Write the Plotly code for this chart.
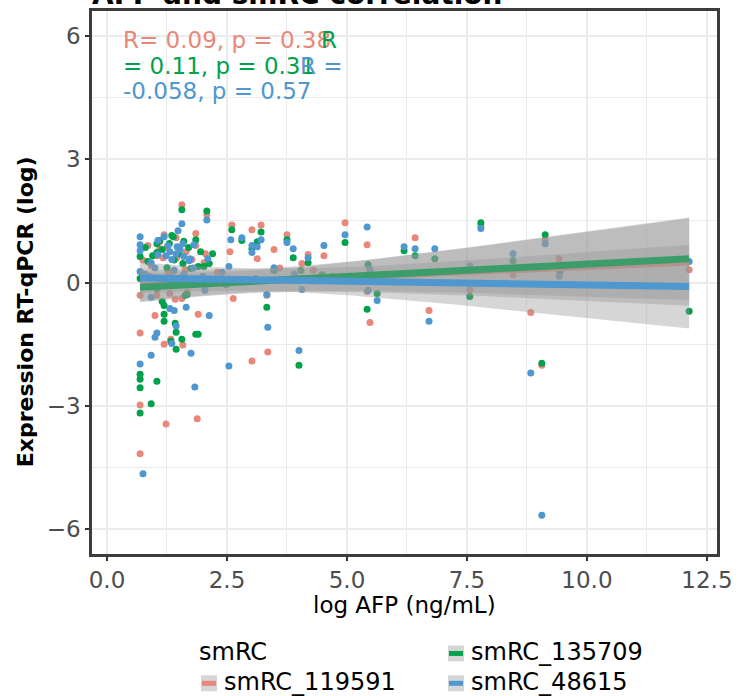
import numpy as np
import plotly.graph_objects as go

# ---------------- data ----------------
series_names = ["smRC_119591", "smRC_135709", "smRC_48615"]
series_colors = ["#E8877A", "#00A14B", "#4E97CF"]

x_119591 = [0.69, 0.69, 1.23, 1.88, 0.69, 1.04, 1.42, 1.56, 1.67, 1.00, 1.90, 2.63, 0.69, 1.33,
            1.19, 1.58, 0.85, 1.56, 2.08, 1.19, 1.10, 1.85, 1.10, 2.60, 2.56, 0.92, 1.77, 2.02,
            3.02, 3.13, 3.21, 3.48, 3.75, 4.19, 4.06, 4.52, 4.96, 5.42, 3.33, 3.35, 3.02, 5.48,
            5.42, 6.42, 6.71, 7.56, 7.79, 8.46, 8.83, 9.13, 9.42, 9.06, 12.13, 1.31, 1.27, 1.63,
            1.17, 1.44, 0.75, 1.05, 1.25, 1.45, 1.65, 1.85, 2.05, 1.35, 1.55, 0.90, 2.30, 3.60,
            4.30]
y_119591 = [-4.16, -2.98, -3.44, -3.31, -0.31, -0.31, -0.41, -0.39, -0.24, -0.80, -0.77, -0.39,
            -1.23, -1.38, -1.50, -1.52, 0.90, 1.89, 1.65, 1.16, 0.99, 1.19, 0.82, 1.40, 0.75,
            0.41, 0.56, 0.48, 1.28, 0.58, 1.40, 0.80, 1.16, 0.68, 0.46, 0.65, 1.45, 0.92, -0.31,
            -1.69, -1.91, -0.97, -0.22, 1.09, -0.68, -0.17, 1.38, 0.19, -0.73, 1.04, 0.58, -2.01,
            0.31, -0.27, 0.27, 0.31, 0.60, 1.09, 0.55, 0.65, 0.85, 0.60, 0.75, 0.90, 0.70, 0.20,
            0.10, 0.15, 0.25, 0.35, 0.30]

x_135709 = [0.69, 0.69, 0.69, 0.69, 1.04, 0.92, 1.15, 1.19, 1.67, 1.19, 1.19, 1.42, 1.44, 1.33,
            1.56, 1.85, 1.90, 1.44, 0.69, 0.85, 1.56, 2.08, 1.35, 1.04, 1.85, 1.04, 2.60, 1.58,
            2.02, 2.13, 1.90, 0.69, 2.81, 3.02, 3.13, 3.21, 3.75, 3.88, 4.19, 3.48, 4.96, 3.33,
            4.00, 5.42, 5.44, 5.63, 6.19, 6.42, 6.83, 7.79, 7.56, 8.46, 9.13, 9.44, 9.06, 12.13,
            1.63, 1.38, 1.10, 1.04, 1.75, 1.25, 2.48, 4.04, 3.48, 4.48, 0.80, 1.15, 1.30, 1.50,
            1.70, 1.95, 1.40, 1.60, 0.95, 2.20]
y_135709 = [-2.23, -2.35, -2.56, -3.17, -2.40, -2.95, -0.46, -0.56, -0.29, -0.77, -0.94, -0.99,
            -1.21, -1.43, -1.38, -1.26, -1.26, -1.62, 0.63, 0.51, 1.77, 1.74, 1.14, 0.94, 1.04,
            0.73, 1.28, 0.46, 0.39, 0.46, 0.39, 0.10, 1.02, 0.82, 0.99, 1.23, 1.04, 0.60, 0.48,
            0.31, 0.97, -0.60, -2.01, -0.65, 0.44, -0.27, 0.77, 0.65, 0.58, 1.45, -0.34, 0.53,
            1.16, 0.27, -1.96, -0.70, -0.31, 1.11, 1.02, -0.15, 0.34, 0.36, -0.05, 0.29, 0.29,
            0.19, 0.85, 0.80, 0.95, 0.70, 0.85, 0.75, 0.55, 1.00, 0.65, 0.70]

x_48615 = [0.69, 0.75, 1.83, 2.54, 0.92, 1.31, 1.40, 1.65, 2.13, 2.04, 1.44, 1.04, 1.00, 1.35,
           1.75, 0.92, 0.69, 0.69, 0.69, 1.56, 2.08, 1.48, 1.19, 1.06, 1.27, 1.81, 1.06, 2.58,
           2.81, 0.92, 1.35, 1.73, 2.10, 2.54, 0.69, 3.02, 3.02, 3.13, 3.21, 3.75, 3.88, 4.19,
           3.48, 4.52, 4.96, 5.42, 3.33, 4.06, 3.35, 4.00, 5.48, 5.44, 5.63, 6.19, 6.42, 6.83,
           6.71, 7.79, 7.56, 8.46, 9.13, 9.42, 8.83, 9.06, 12.13, 1.31, 1.44, 1.52, 1.60, 1.23,
           1.46, 1.58, 1.71, 0.80, 1.00, 1.20, 1.40, 1.60, 1.80, 2.00, 2.40, 3.10, 3.90, 4.70]
y_48615 = [-1.98, -4.65, -2.54, -2.03, -0.36, -0.63, -0.68, -0.60, -0.80, -0.19, -1.06, -1.23,
           -1.33, -1.48, -1.72, -1.77, 1.11, 0.92, 0.77, 1.43, 1.52, 1.26, 1.11, 1.02, 0.90, 0.92,
           0.68, 1.04, 1.09, 0.48, 0.56, 0.58, 0.58, 0.39, 0.27, 0.90, 0.73, 0.87, 1.04, 0.97,
           0.82, 0.60, 0.36, 0.90, 1.16, 1.35, -0.29, -0.17, -1.09, -1.65, 0.31, -0.19, -0.44,
           0.87, 0.82, 0.82, -0.94, 1.31, 0.41, 0.70, 0.94, 0.15, -2.20, -5.66, 0.51, 0.75, 0.70,
           0.80, 0.63, 0.65, 0.87, 0.94, 0.53, 0.20, 0.35, 0.10, 0.30, 0.20, 0.35, 0.15, 0.25,
           0.10, 0.20, 0.15]

cor_labels = ["R= 0.09, p = 0.38", "R", "= 0.11, p = 0.31", "R =", "-0.058, p = 0.57"]
cor_label_series = [0, 1, 1, 2, 2]

x_ticks = [0.0, 2.5, 5.0, 7.5, 10.0, 12.5]
y_ticks = [-6, -3, 0, 3, 6]

title_text = "AFP and smRC correlation"
x_title = "log AFP (ng/mL)"
y_title = "Expression RT-qPCR (log)"
legend_title = "smRC"

xs = [x_119591, x_135709, x_48615]
ys = [y_119591, y_135709, y_48615]

# ---------------- layout helpers ----------------
W, H = 742, 696
ML, MR, MT = 92, 25, 8
PW = W - ML - MR
PH = 546
MB = H - MT - PH
FONT = "DejaVu Sans, Liberation Sans, Arial, sans-serif"


def px_x(p):
    return (p - ML) / PW


def px_y(p):
    return (MT + PH - p) / PH


def t_quantile(nu, z=1.959963985):
    return (z + (z**3 + z) / (4 * nu) + (5 * z**5 + 16 * z**3 + 3 * z) / (96 * nu**2)
            + (3 * z**7 + 19 * z**5 + 17 * z**3 - 15 * z) / (384 * nu**3))


def lm_fit(x, y, n_grid=80):
    x = np.asarray(x, float)
    y = np.asarray(y, float)
    n = len(x)
    mx, my = x.mean(), y.mean()
    sxx = ((x - mx) ** 2).sum()
    b = ((x - mx) * (y - my)).sum() / sxx
    a = my - b * mx
    res = y - (a + b * x)
    s2 = (res ** 2).sum() / (n - 2)
    g = np.linspace(x.min(), x.max(), n_grid)
    fit = a + b * g
    se = np.sqrt(s2 * (1.0 / n + (g - mx) ** 2 / sxx))
    t = t_quantile(n - 2)
    return g, fit, fit - t * se, fit + t * se


fig = go.Figure()

# points
for name, col, x, y in zip(series_names, series_colors, xs, ys):
    fig.add_trace(go.Scatter(x=x, y=y, mode="markers", name=name, showlegend=False,
                             marker=dict(color=col, size=7, line=dict(width=0)),
                             hoverinfo="skip"))

# smooth: ribbon then line, per group
for name, col, x, y in zip(series_names, series_colors, xs, ys):
    g, fit, lo, hi = lm_fit(x, y)
    fig.add_trace(go.Scatter(x=np.concatenate([g, g[::-1]]), y=np.concatenate([hi, lo[::-1]]),
                             mode="lines", fill="toself", fillcolor="rgba(153,153,153,0.4)",
                             line=dict(width=0), showlegend=False, hoverinfo="skip"))
    fig.add_trace(go.Scatter(x=g, y=fit, mode="lines", line=dict(color=col, width=7),
                             showlegend=False, hoverinfo="skip"))

annotations = []
# correlation labels (overlapping like the original)
label_pos = [(121, 37), (319, 37), (121, 63), (298, 63), (121, 88)]
for txt, si, (lx, ly) in zip(cor_labels, cor_label_series, label_pos):
    annotations.append(dict(text=txt, xref="paper", yref="paper", x=px_x(lx), y=px_y(ly),
                            xanchor="left", yanchor="middle", showarrow=False,
                            font=dict(family=FONT, size=23, color=series_colors[si])))

# title (cut off at top)
annotations.append(dict(text="<b>" + title_text + "</b>", xref="paper", yref="paper",
                        x=px_x(90), y=px_y(10), xanchor="left", yanchor="bottom",
                        showarrow=False, font=dict(family=FONT, size=28, color="black")))
# axis titles
annotations.append(dict(text=x_title, xref="paper", yref="paper", x=0.5, y=px_y(605),
                        xanchor="center", yanchor="middle", showarrow=False,
                        font=dict(family=FONT, size=23, color="black")))
annotations.append(dict(text="<b>" + y_title + "</b>", xref="paper", yref="paper",
                        x=px_x(25), y=px_y(311), xanchor="center", yanchor="middle",
                        textangle=-90, showarrow=False,
                        font=dict(family=FONT, size=22, color="black")))

# legend (drawn manually to match ggplot arrangement)
annotations.append(dict(text=legend_title, xref="paper", yref="paper", x=px_x(197), y=px_y(653),
                        xanchor="left", yanchor="middle", showarrow=False,
                        font=dict(family=FONT, size=24, color="black")))
legend_slots = [(201, 684), (448, 654), (448, 684)]
shapes = []
for name, col, (kx, ky) in zip(series_names, series_colors, legend_slots):
    shapes.append(dict(type="rect", xref="paper", yref="paper", x0=px_x(kx), x1=px_x(kx + 16),
                       y0=px_y(ky + 8), y1=px_y(ky - 8), fillcolor="#D6D6D6", line=dict(width=0),
                       layer="above"))
    shapes.append(dict(type="rect", xref="paper", yref="paper", x0=px_x(kx + 1), x1=px_x(kx + 15),
                       y0=px_y(ky + 2.5), y1=px_y(ky - 2.5), fillcolor=col, line=dict(width=0),
                       layer="above"))
    annotations.append(dict(text=name, xref="paper", yref="paper", x=px_x(kx + 21), y=px_y(ky - 1),
                            xanchor="left", yanchor="middle", showarrow=False,
                            font=dict(family=FONT, size=24, color="black")))

axis_common = dict(showgrid=True, gridcolor="#EBEBEB", gridwidth=2, zeroline=False,
                   showline=True, mirror=True, linecolor="#3A3D3C", linewidth=2.5,
                   ticks="outside", ticklen=4, tickwidth=2, tickcolor="#333333",
                   tickfont=dict(family=FONT, size=23, color="#4D4D4D"))

fig.update_layout(
    width=W, height=H,
    margin=dict(l=ML, r=MR, t=MT, b=MB, pad=0),
    plot_bgcolor="white", paper_bgcolor="white",
    showlegend=False,
    xaxis=dict(range=[-0.3125, 12.71], tickmode="array", tickvals=x_ticks,
               ticktext=["%.1f" % v for v in x_ticks],
               minor=dict(tickmode="array", tickvals=[1.25, 3.75, 6.25, 8.75, 11.25],
                          showgrid=True, gridcolor="#EBEBEB", gridwidth=1, ticks=""),
               **axis_common),
    yaxis=dict(range=[-6.6, 6.6], tickmode="array", tickvals=y_ticks,
               ticktext=[("\u2212%d" % -v) if v < 0 else "%d" % v for v in y_ticks],
               minor=dict(tickmode="array", tickvals=[-4.5, -1.5, 1.5, 4.5],
                          showgrid=True, gridcolor="#EBEBEB", gridwidth=1, ticks=""),
               **axis_common),
    annotations=annotations,
    shapes=shapes,
)

fig.write_html("out.html", config={"displayModeBar": False})
